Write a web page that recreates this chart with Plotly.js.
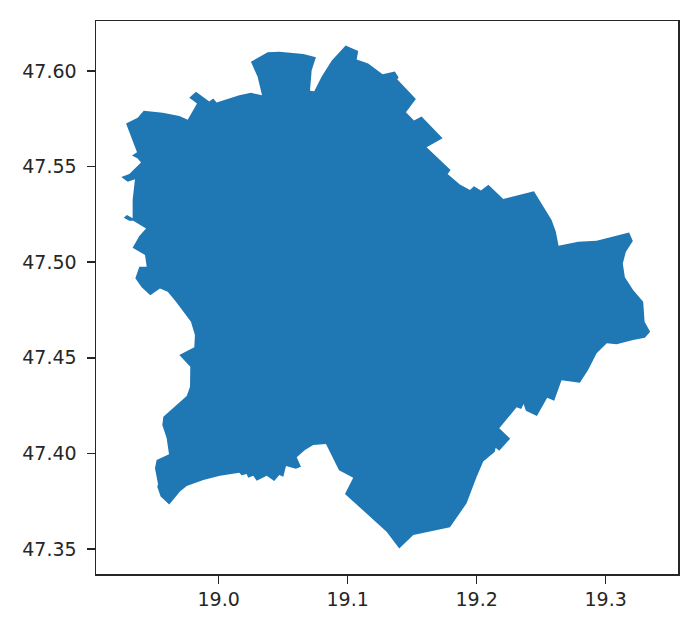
<!DOCTYPE html>
<html>
<head>
<meta charset="utf-8">
<script src="https://cdn.plot.ly/plotly-3.0.1.min.js"></script>
<style>
  html, body { margin: 0; padding: 0; background: #fff; }
</style>
</head>
<body>
<div id="chart"></div>
<script>
// boundary outline, clockwise from the north-west notch
const lon = [
  19.0250, 19.0380, 19.0470, 19.0553, 19.0656, 19.0754, 19.0721, 19.0708, 19.0741, 19.0798,
  19.0876, 19.0984, 19.1082, 19.1070, 19.1159, 19.1211, 19.1271, 19.1366, 19.1395, 19.1384,
  19.1529, 19.1452, 19.1514, 19.1573, 19.1736, 19.1612, 19.1798, 19.1775, 19.1870, 19.1948,
  19.1979, 19.2033, 19.2091, 19.2206, 19.2444, 19.2581, 19.2614, 19.2635, 19.2787, 19.2930,
  19.3182, 19.3211, 19.3157, 19.3133, 19.3149, 19.3213, 19.3291, 19.3302, 19.3345, 19.3304,
  19.3213, 19.3085, 19.3009, 19.2930, 19.2864, 19.2800, 19.2658, 19.2601, 19.2547, 19.2467,
  19.2382, 19.2364, 19.2345, 19.2310, 19.2175, 19.2260, 19.2175, 19.2147, 19.2141, 19.2051,
  19.2000, 19.1922, 19.1793, 19.1509, 19.1400, 19.1302, 19.0979, 19.1043, 19.0933, 19.0832,
  19.0733, 19.0669, 19.0605, 19.0638, 19.0599, 19.0522, 19.0501, 19.0470, 19.0431, 19.0372,
  19.0295, 19.0268, 19.0229, 19.0217, 19.0178, 19.0160, 19.0010, 18.9881, 18.9752, 18.9700,
  18.9617, 18.9550, 18.9524, 18.9530, 18.9506, 18.9519, 18.9615, 18.9597, 18.9563, 18.9571,
  18.9752, 18.9778, 18.9780, 18.9695, 18.9811, 18.9816, 18.9785, 18.9669, 18.9605, 18.9545,
  18.9470, 18.9403, 18.9354, 18.9385, 18.9442, 18.9429, 18.9333, 18.9385, 18.9437, 18.9338,
  18.9307, 18.9264, 18.9289, 18.9333, 18.9333, 18.9351, 18.9295, 18.9245, 18.9307, 18.9398,
  18.9372, 18.9328, 18.9367, 18.9282, 18.9372, 18.9419, 18.9566, 18.9695, 18.9760, 18.9832,
  18.9772, 18.9824, 18.9927, 18.9958, 18.9984, 19.0160, 19.0250, 19.0336, 19.0302, 19.0250
];
const lat = [
  47.6049, 47.6098, 47.6101, 47.6096, 47.6089, 47.6072, 47.6005, 47.5897, 47.5895, 47.5970,
  47.6054, 47.6134, 47.6105, 47.6061, 47.6040, 47.6014, 47.5983, 47.5998, 47.5967, 47.5957,
  47.5854, 47.5784, 47.5742, 47.5763, 47.5648, 47.5601, 47.5482, 47.5461, 47.5407, 47.5378,
  47.5398, 47.5375, 47.5406, 47.5331, 47.5371, 47.5221, 47.5159, 47.5086, 47.5107, 47.5112,
  47.5156, 47.5111, 47.5055, 47.4994, 47.4921, 47.4855, 47.4793, 47.4689, 47.4636, 47.4605,
  47.4593, 47.4571, 47.4576, 47.4524, 47.4436, 47.4370, 47.4382, 47.4276, 47.4291, 47.4196,
  47.4223, 47.4258, 47.4232, 47.4241, 47.4131, 47.4077, 47.4014, 47.4030, 47.4009, 47.3957,
  47.3878, 47.3739, 47.3613, 47.3573, 47.3502, 47.3590, 47.3788, 47.3873, 47.3912, 47.4049,
  47.4044, 47.4018, 47.3980, 47.3930, 47.3920, 47.3934, 47.3878, 47.3887, 47.3856, 47.3883,
  47.3857, 47.3883, 47.3873, 47.3892, 47.3885, 47.3899, 47.3883, 47.3861, 47.3829, 47.3800,
  47.3732, 47.3774, 47.3826, 47.3840, 47.3922, 47.3965, 47.3995, 47.4079, 47.4149, 47.4192,
  47.4300, 47.4349, 47.4453, 47.4515, 47.4555, 47.4619, 47.4689, 47.4793, 47.4846, 47.4863,
  47.4827, 47.4869, 47.4916, 47.4976, 47.4976, 47.5038, 47.5076, 47.5137, 47.5177, 47.5217,
  47.5217, 47.5233, 47.5247, 47.5230, 47.5325, 47.5434, 47.5421, 47.5446, 47.5461, 47.5522,
  47.5543, 47.5559, 47.5575, 47.5726, 47.5756, 47.5792, 47.5782, 47.5765, 47.5745, 47.5831,
  47.5860, 47.5892, 47.5841, 47.5857, 47.5836, 47.5874, 47.5886, 47.5873, 47.5970, 47.6049
];
const xTicks = [19.0, 19.1, 19.2, 19.3];
const yTicks = [47.35, 47.40, 47.45, 47.50, 47.55, 47.60];

const trace = {
  x: lon,
  y: lat,
  type: 'scatter',
  mode: 'lines',
  fill: 'toself',
  fillcolor: '#1f77b4',
  line: { color: '#1f77b4', width: 0 },
  hoverinfo: 'none',
};

const axisStyle = {
  showgrid: false,
  zeroline: false,
  showline: true,
  mirror: true,
  linecolor: '#262626',
  linewidth: 1.5,
  ticks: 'outside',
  ticklen: 8,
  tickwidth: 1.5,
  tickcolor: '#262626',
  tickmode: 'array',
};

const layout = {
  width: 694,
  height: 631,
  margin: { l: 96, r: 16, t: 21, b: 57 },
  showlegend: false,
  paper_bgcolor: '#fff',
  plot_bgcolor: '#fff',
  font: { family: 'DejaVu Sans', size: 19, color: '#262626' },
  xaxis: { ...axisStyle, range: [18.9049, 19.3561], tickvals: xTicks, tickformat: '.1f' },
  yaxis: { ...axisStyle, range: [47.3369, 47.6262], tickvals: yTicks, tickformat: '.2f', ticklabelstandoff: 6 },
};

Plotly.newPlot('chart', [trace], layout, { displayModeBar: false, staticPlot: true });
</script>
</body>
</html>
